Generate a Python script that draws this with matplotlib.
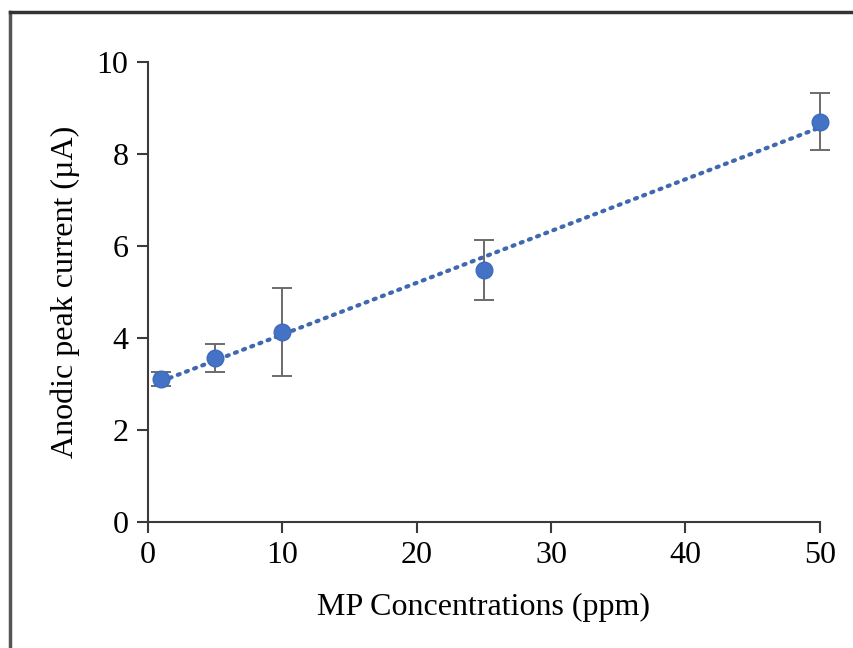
import matplotlib
matplotlib.use("Agg")
import matplotlib.pyplot as plt
import numpy as np
from matplotlib.lines import Line2D

# data
conc_ppm = [1, 5, 10, 25, 50]
peak_current = [3.11, 3.57, 4.13, 5.48, 8.70]
current_err = [0.15, 0.30, 0.95, 0.66, 0.62]

x_ticks = [0, 10, 20, 30, 40, 50]
y_ticks = [0, 2, 4, 6, 8, 10]

BLUE = "#4472C4"
GREY = "#6b6b6b"

plt.rcParams["font.family"] = ["Liberation Serif", "DejaVu Serif"]

fig = plt.figure(figsize=(8.54, 6.48), dpi=100)
ax = fig.add_axes([0.1733, 0.1944, 0.7867, 0.7099])

# linear trend line
slope, intercept = np.polyfit(conc_ppm, peak_current, 1)
xs = np.array([min(conc_ppm), max(conc_ppm)])
ax.plot(xs, slope * xs + intercept, linestyle=(0, (0.5, 1.6)), color="#4068b0",
        linewidth=3.0, dash_capstyle="round", zorder=2)

ax.errorbar(conc_ppm, peak_current, yerr=current_err, fmt="none",
            ecolor=GREY, elinewidth=1.4, capsize=7, capthick=1.4, zorder=3,
            clip_on=False)
ax.plot(conc_ppm, peak_current, "o", color=BLUE, markersize=12,
        markeredgecolor="#3f6bbd", zorder=4, clip_on=False)

ax.set_xlim(0, 50)
ax.set_ylim(0, 10)
ax.set_xticks(x_ticks)
ax.set_yticks(y_ticks)
ax.tick_params(direction="out", length=8, width=1.5, color="#3a3a3a",
               labelsize=23, pad=6)
for side in ["top", "right"]:
    ax.spines[side].set_visible(False)
for side in ["left", "bottom"]:
    ax.spines[side].set_linewidth(1.5)
    ax.spines[side].set_color("#3a3a3a")

ax.set_xlabel("MP Concentrations (ppm)", fontsize=23, labelpad=16)
ax.set_ylabel("Anodic peak current (µA)", fontsize=23, labelpad=12)

# frame of the cropped picture (top and left edges visible)
fig.add_artist(Line2D([10 / 854, 10 / 854], [0, 1 - 12 / 648],
                      transform=fig.transFigure, color="#555555", linewidth=2.5))
fig.add_artist(Line2D([10 / 854, 1], [1 - 12 / 648, 1 - 12 / 648],
                      transform=fig.transFigure, color="#333333", linewidth=2.5))

fig.savefig("out.png", dpi=100)
